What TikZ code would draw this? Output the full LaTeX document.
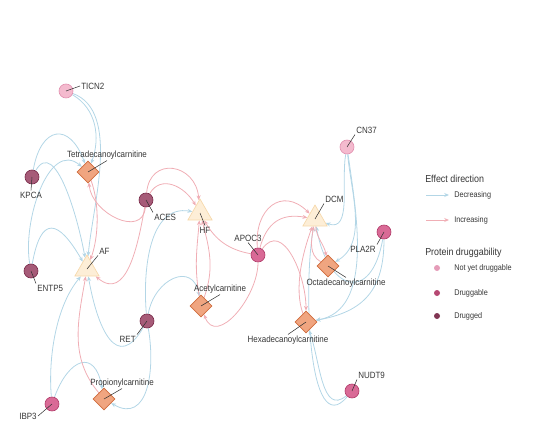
\documentclass[tikz,border=0pt]{standalone}
\usepackage{fontspec}
\setmainfont{Liberation Sans}[FakeStretch=0.88]
\usepackage{tikz}
\usetikzlibrary{arrows.meta,shapes.geometric,backgrounds}

\definecolor{decblue}{HTML}{B3D6E6}
\definecolor{incred}{HTML}{F0AEB5}
\definecolor{notyetfill}{HTML}{F4BACE}
\definecolor{notyetline}{HTML}{E291B0}
\definecolor{druggablefill}{HTML}{D96A96}
\definecolor{druggableline}{HTML}{B23E6B}
\definecolor{druggedfill}{HTML}{A65B78}
\definecolor{druggedline}{HTML}{7A2B4A}
\definecolor{metfill}{HTML}{F0A580}
\definecolor{metline}{HTML}{D06C3C}
\definecolor{disfill}{HTML}{FDEBD0}
\definecolor{disline}{HTML}{F6D8AA}
\definecolor{labtext}{HTML}{363636}

\begin{document}
\begin{tikzpicture}[x=0.75pt,y=0.75pt,>={Stealth[length=3.6pt,width=3pt]},
  protein/.style={circle,minimum size=10.5pt,inner sep=0pt,line width=0.5pt},
  notyet/.style={protein,draw=notyetline,fill=notyetfill},
  druggable/.style={protein,draw=druggableline,fill=druggablefill},
  drugged/.style={protein,draw=druggedline,fill=druggedfill},
  metab/.style={diamond,minimum size=16.5pt,inner sep=0pt,line width=0.5pt,
    draw=metline,fill=metfill},
  disease/.style={regular polygon,regular polygon sides=3,minimum size=21pt,
    inner sep=0pt,line width=0.5pt,draw=disline,fill=disfill,fill opacity=0.85},
  lab/.style={font=\fontsize{6.8}{8}\selectfont,text=labtext,inner sep=0.8pt},
  lead/.style={draw=black!80,line width=0.4pt},
  dec/.style={->,draw=decblue,line width=0.6pt},
  inc/.style={->,draw=incred,line width=0.6pt},
  legtitle/.style={font=\fontsize{7.6}{9}\selectfont,text=labtext,inner sep=0pt},
  legtext/.style={font=\fontsize{6.2}{7}\selectfont,text=labtext,inner sep=0pt},
  legdot/.style={circle,minimum size=4.5pt,inner sep=0pt}]
  \useasboundingbox (0,0) rectangle (542,440);
  %
  % Proteins
  \node[notyet]    (TICN2) at (66,349) {};
  \node[drugged]   (KPCA)  at (32,263) {};
  \node[drugged]   (ACES)  at (146,240) {};
  \node[drugged]   (ENTP5) at (31,169) {};
  \node[druggable] (APOC3) at (258,185) {};
  \node[drugged]   (RET)   at (147,119) {};
  \node[druggable] (IBP3)  at (52,36) {};
  \node[notyet]    (CN37)  at (347,293) {};
  \node[druggable] (PLA2R) at (384,208) {};
  \node[druggable] (NUDT9) at (352,49) {};
  %
  % Metabolites
  \node[metab] (Tetra)     at (88,268) {};
  \node[metab] (Acetyl)    at (201,134) {};
  \node[metab] (Propionyl) at (104,41) {};
  \node[metab] (Octa)      at (328,174) {};
  \node[metab] (Hexa)      at (306,118) {};
  %
  % Diseases
  \node[disease] (HF)  at (200,227) {};
  \node[disease] (AF)  at (87,171) {};
  \node[disease] (DCM) at (315,221) {};
  %
  % Edges
  \begin{scope}[on background layer]
    % decreasing
    \draw[dec] (TICN2) to[out=-20,in=85,looseness=0.8] (AF);
    \draw[dec] (TICN2) to[out=-30,in=70] (Tetra);
    \draw[dec] (KPCA) to[out=80,in=110,looseness=2.2] (Tetra);
    \draw[dec] (ENTP5) to[out=100,in=140] (Tetra);
    \draw[dec] (KPCA) to[out=60,in=100] (AF);
    \draw[dec] (ENTP5) to[out=80,in=120,looseness=2.5] (AF);
    \draw[dec] (IBP3) to[out=95,in=230,looseness=0.8] (AF);
    \draw[dec] (IBP3) to[out=70,in=100,looseness=2.2] (Propionyl);
    \draw[dec] (RET) to[out=240,in=-80,looseness=1.8] (AF);
    \draw[dec] (RET) to[out=-80,in=-30,looseness=1.3] (Propionyl);
    \draw[dec] (RET) to[out=80,in=100,looseness=1.7] (Acetyl);
    \draw[dec] (RET) to[out=95,in=170] (HF);
    \draw[dec] (CN37) to[out=-100,in=-20] (DCM);
    \draw[dec] (CN37) to[out=-85,in=30,looseness=0.9] (Octa);
    \draw[dec] (CN37) to[out=-82,in=10,looseness=0.9] (Hexa);
    \draw[dec] (PLA2R) to[out=-100,in=-80,looseness=2.5] (DCM);
    \draw[dec] (PLA2R) to[out=-90,in=10,looseness=1.2] (Hexa);
    \draw[dec] (NUDT9) to[out=220,in=-70,looseness=1.1] (Hexa);
    \draw[dec] (NUDT9) to[out=230,in=-100,looseness=0.9] (DCM);
    % increasing
    \draw[inc] (ACES) to[out=-95,in=-85,looseness=1.3] (Tetra);
    \draw[inc] (ACES) to[out=85,in=95,looseness=1.8] (HF);
    \draw[inc] (ACES) to[out=60,in=120,looseness=1.2] (HF);
    \draw[inc] (ACES) to[out=-100,in=-40,looseness=1.2] (AF);
    \draw[inc] (Tetra) to[out=-70,in=70,looseness=0.8] (AF);
    \draw[inc] (Propionyl) to[out=130,in=-100] (AF);
    \draw[inc] (Acetyl) to[out=100,in=-95] (HF);
    \draw[inc] (Acetyl) to[out=70,in=-75] (HF);
    \draw[inc] (APOC3) to[out=-90,in=-70,looseness=1.2] (Acetyl);
    \draw[inc] (APOC3) to[out=170,in=-60] (HF);
    \draw[inc] (APOC3) to[out=95,in=135,looseness=1.6] (DCM);
    \draw[inc] (APOC3) to[out=75,in=170,looseness=1.2] (DCM);
    \draw[inc] (APOC3) to[out=55,in=90,looseness=1.2] (Hexa);
    \draw[inc] (Hexa) to[out=110,in=-110,looseness=0.8] (DCM);
    \draw[inc] (DCM) to[out=-85,in=100] (Octa);
    \draw[inc] (Octa) to[out=150,in=-100] (DCM);
  \end{scope}
  %
  % Labels
  \node[lab,anchor=west] (TICN2-l) at (80,354) {TICN2};
  \node[lab] (Tetra-l) at (107,285) {Tetradecanoylcarnitine};
  \node[lab] (KPCA-l) at (31,245) {KPCA};
  \node[lab,anchor=west] (ACES-l) at (153,223) {ACES};
  \node[lab] (HF-l) at (205,210) {HF};
  \node[lab,anchor=west] (AF-l) at (98,189) {AF};
  \node[lab,anchor=west] (ENTP5-l) at (36,152) {ENTP5};
  \node[lab] (APOC3-l) at (248,202) {APOC3};
  \node[lab] (Acetyl-l) at (220,151) {Acetylcarnitine};
  \node[lab,anchor=east] (RET-l) at (137,101) {RET};
  \node[lab] (Propionyl-l) at (122,57) {Propionylcarnitine};
  \node[lab,anchor=east] (IBP3-l) at (38,24) {IBP3};
  \node[lab,anchor=west] (CN37-l) at (355,310) {CN37};
  \node[lab,anchor=west] (DCM-l) at (324,241) {DCM};
  \node[lab,anchor=east] (PLA2R-l) at (377,191) {PLA2R};
  \node[lab] (Octa-l) at (346,157) {Octadecanoylcarnitine};
  \node[lab] (Hexa-l) at (288,100) {Hexadecanoylcarnitine};
  \node[lab,anchor=west] (NUDT9-l) at (357,65) {NUDT9};
  %
  % Leaders
  \draw[lead] (TICN2.center) -- (TICN2-l.west);
  \draw[lead] (Tetra.center) -- (Tetra-l.south);
  \draw[lead] (KPCA.center) -- (KPCA-l.north);
  \draw[lead] (ACES.center) -- (ACES-l.north west);
  \draw[lead] (HF.center) -- (HF-l.north);
  \draw[lead] (AF.center) -- (AF-l.south west);
  \draw[lead] (ENTP5.center) -- (ENTP5-l.north west);
  \draw[lead] (APOC3.center) -- (APOC3-l.south);
  \draw[lead] (Acetyl.center) -- (Acetyl-l.south);
  \draw[lead] (RET.center) -- (RET-l.north east);
  \draw[lead] (Propionyl.center) -- (Propionyl-l.south);
  \draw[lead] (IBP3.center) -- (IBP3-l.east);
  \draw[lead] (CN37.center) -- (CN37-l.south west);
  \draw[lead] (DCM.center) -- (DCM-l.south west);
  \draw[lead] (PLA2R.center) -- (PLA2R-l.north east);
  \draw[lead] (Octa.center) -- (Octa-l.north);
  \draw[lead] (Hexa.center) -- (Hexa-l.north);
  \draw[lead] (NUDT9.center) -- (NUDT9-l.south west);
  %
  % Legend
  \node[legtitle,anchor=west] (eff-t) at (425,261) {Effect direction};
  \coordinate (dec-a) at (426,245);
  \coordinate (dec-b) at (449,245);
  \draw[dec] (dec-a) -- (dec-b);
  \node[legtext,anchor=west] (dec-l) at (454,245) {Decreasing};
  \coordinate (inc-a) at (426,220);
  \coordinate (inc-b) at (449,220);
  \draw[inc] (inc-a) -- (inc-b);
  \node[legtext,anchor=west] (inc-l) at (454,220) {Increasing};
  \node[legtitle,anchor=west] (drug-t) at (425,187) {Protein druggability};
  \node[legdot,fill=notyetline!90!white] (notyet-d) at (437,172) {};
  \node[legtext,anchor=west] (notyet-l) at (454,172) {Not yet druggable};
  \node[legdot,fill=druggableline!95!white] (druggable-d) at (437,147) {};
  \node[legtext,anchor=west] (druggable-l) at (454,147) {Druggable};
  \node[legdot,fill=druggedline!95!white] (drugged-d) at (437,124) {};
  \node[legtext,anchor=west] (drugged-l) at (454,124) {Drugged};
  %
\end{tikzpicture}
\end{document}
